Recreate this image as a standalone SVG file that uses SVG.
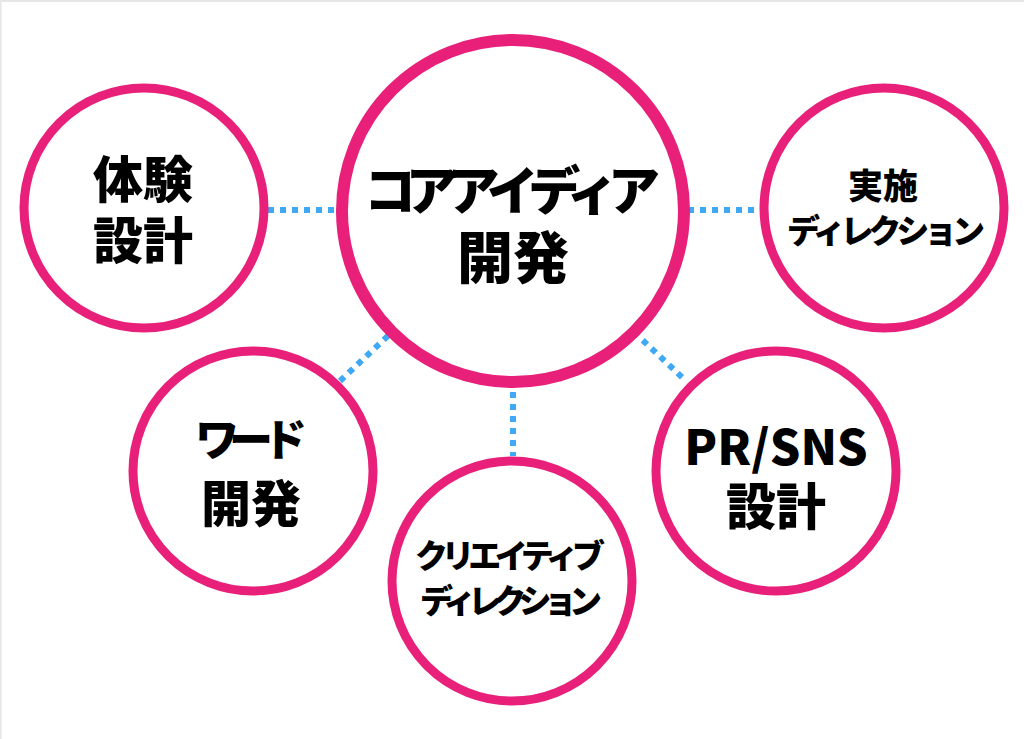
<svg xmlns="http://www.w3.org/2000/svg" width="1024" height="739" viewBox="0 0 1024 739">
<style>
.node{fill:#fff;stroke:#E8207A;stroke-width:9}
.core{stroke-width:12}
.conn{stroke:#3FA9F5;stroke-width:6;stroke-dasharray:6 6;fill:none}
text{font-family:"Noto Sans CJK JP","Noto Sans",sans-serif;font-weight:900;fill:#000;text-anchor:middle;dominant-baseline:central}
</style>
<rect width="1024" height="739" fill="#fff"/>
<rect x="0" y="0" width="1024" height="2" fill="#e6e6e6"/>
<rect x="0" y="0" width="1.5" height="739" fill="#e6e6e6"/>
<g id="connectors">
<line class="conn" x1="268" y1="210" x2="340" y2="210"/>
<line class="conn" x1="688" y1="210" x2="762" y2="210"/>
<line class="conn" x1="513" y1="380" x2="513" y2="456"/>
<line class="conn" x1="340" y1="381" x2="392" y2="332"/>
<line class="conn" x1="634" y1="332" x2="686" y2="381"/>
</g>
<g id="n-core">
<circle class="node core" cx="513" cy="211" r="171"/>
<text x="512" y="187" font-size="52" textLength="296" lengthAdjust="spacing">コアアイディア</text>
<text x="513" y="253" font-size="56">開発</text>
</g>
<g id="n-taiken">
<circle class="node" cx="144" cy="208" r="120"/>
<text x="143" y="176" font-size="50">体験</text>
<text x="143" y="237" font-size="50">設計</text>
</g>
<g id="n-jisshi">
<circle class="node" cx="884" cy="208" r="120"/>
<text x="883" y="183" font-size="35">実施</text>
<text x="886" y="229" font-size="33" textLength="198" lengthAdjust="spacing">ディレクション</text>
</g>
<g id="n-word">
<circle class="node" cx="253" cy="471" r="120"/>
<text x="251" y="437" font-size="44" textLength="112" lengthAdjust="spacing">ワード</text>
<text x="251" y="500" font-size="50">開発</text>
</g>
<g id="n-creative">
<circle class="node" cx="512" cy="581" r="120"/>
<text x="510" y="554" font-size="33" textLength="190" lengthAdjust="spacing">クリエイティブ</text>
<text x="511" y="599" font-size="33" textLength="182" lengthAdjust="spacing">ディレクション</text>
</g>
<g id="n-prsns">
<circle class="node" cx="776" cy="471" r="120"/>
<text x="776" y="444" font-size="48">PR/SNS</text>
<text x="776" y="503" font-size="50">設計</text>
</g>
</svg>
